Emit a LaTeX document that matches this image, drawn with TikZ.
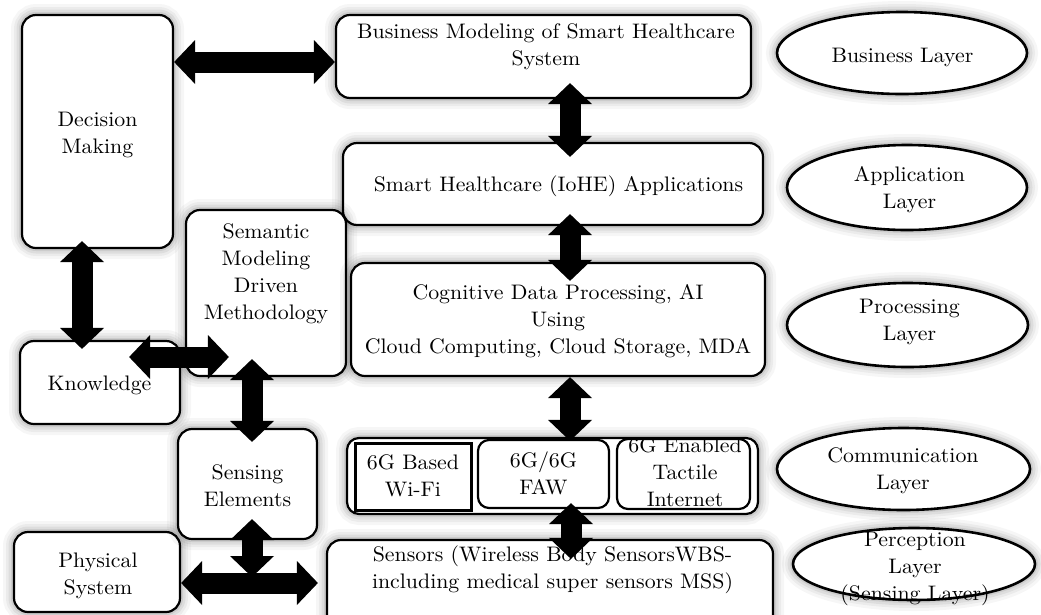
\documentclass[tikz,border=0pt]{standalone}
\usepackage{fontspec}
\setmainfont{lmroman10-regular.otf}[FakeStretch=1.04]
\usetikzlibrary{shapes.geometric,arrows.meta,calc}
\begin{document}
\begin{tikzpicture}[x=1pt,y=-1pt,
  glow/.style={preaction={draw=black,opacity=0.035,line width=22pt},
               preaction={draw=black,opacity=0.045,line width=16pt},
               preaction={draw=black,opacity=0.06,line width=11pt},
               preaction={draw=black,opacity=0.08,line width=6pt}},
  box/.style={draw,line width=2.2pt,rounded corners=14pt,fill=white,glow,inner sep=0pt},
  ibox/.style={draw,line width=2.2pt,rounded corners=11pt,fill=white,inner sep=0pt},
  ell/.style={draw,ellipse,line width=2.6pt,fill=white,glow,inner sep=0pt},
  txt/.style={align=center,inner sep=0pt,font=\fontsize{21}{27}\selectfont},
  dbl/.style={line width=21pt,
    {Triangle[width=44pt,length=21pt,line width=0pt]}-{Triangle[width=44pt,length=21pt,line width=0pt]}}
]
\useasboundingbox (0,0) rectangle (1041,614);
\clip (0,0) rectangle (1041,614);

% boxes
\node[box,minimum width=151pt,minimum height=233pt] (dm) at (97.5,131.5) {};
\node[box,minimum width=415pt,minimum height=83pt] (bm) at (543.5,56.5) {};
\node[box,minimum width=420pt,minimum height=82pt] (sh) at (553,184) {};
\node[box,minimum width=160pt,minimum height=166pt] (sm) at (266,293) {};
\node[box,minimum width=414pt,minimum height=113pt] (cg) at (558,319.5) {};
\node[box,minimum width=160pt,minimum height=83pt] (kn) at (100,382.5) {};
\node[box,minimum width=166pt,minimum height=80pt] (ps) at (97,572) {};
\node[box,minimum width=139pt,minimum height=110pt] (se) at (247.5,484) {};
\node[box,rounded corners=12pt,minimum width=411pt,minimum height=76pt] (cm) at (552.5,476) {};
\node[draw,line width=3pt,fill=white,inner sep=0pt,minimum width=116pt,minimum height=67pt] (wf) at (413,476.5) {};
\node[ibox,minimum width=131pt,minimum height=68pt] (fw) at (543.5,474) {};
\node[ibox,minimum width=133pt,minimum height=70pt] (tc) at (683.5,474) {};
\node[box,minimum width=446pt,minimum height=100pt] (sn) at (550,590) {};

% layer ellipses
\node[ell,minimum width=250pt,minimum height=82pt] (bl) at (902,53) {};
\node[ell,minimum width=240pt,minimum height=85pt] (al) at (907,187.5) {};
\node[ell,minimum width=241pt,minimum height=84pt] (pl) at (907.5,325) {};
\node[ell,minimum width=253pt,minimum height=82pt] (cl) at (903.5,469) {};
\node[ell,minimum width=242pt,minimum height=72pt] (pc) at (914,564) {};

% texts
\node[txt] (tdm) at (97.5,135) {Decision\\Making};
\node[txt] (tbm) at (546,47) {Business Modeling of Smart Healthcare\\System};
\node[txt] (tsh) at (558.5,186) {Smart Healthcare (IoHE) Applications};
\node[txt] (tsm) at (266,274) {Semantic\\Modeling\\Driven\\Methodology};
\node[txt] (tcg) at (558,321.5) {Cognitive Data Processing, AI\\Using\\Cloud Computing, Cloud Storage, MDA};
\node[txt] (tkn) at (99.5,385) {Knowledge};
\node[txt] (tse) at (247.5,485.5) {Sensing\\Elements};
\node[txt] (tps) at (98,575.5) {Physical\\System};
\node[txt] (twf) at (413,476) {6G Based\\Wi-Fi};
\node[txt] (tfw) at (543.5,473) {6G/6G\\FAW};
\node[txt] (ttc) at (685,472) {6G Enabled\\Tactile\\Internet};
\node[txt] (tsn) at (552.5,570) {Sensors (Wireless Body SensorsWBS-\\including medical super sensors MSS)};
\node[txt] (tbl) at (902.5,57) {Business Layer};
\node[txt] (tal) at (909.5,189.5) {Application\\Layer};
\node[txt] (tpl) at (909.5,321.5) {Processing\\Layer};
\node[txt] (tcl) at (903,471) {Communication\\Layer};
\node[txt] (tpc) at (915,569) {Perception\\Layer\\(Sensing Layer)};

% connector helper coordinates
\coordinate (a1) at (0,62);
\coordinate (ax) at (570,0);
\coordinate (bx) at (82,0);
\coordinate (c7) at (0,357);
\coordinate (dx) at (252,0);
\coordinate (h) at (0,583);
\coordinate (jn) at (252,577);

% connectors
\draw[dbl] (dm.east |- a1) -- (bm.west |- a1);
\draw[dbl] ($(bm.south -| ax)+(0,-16)$) -- ($(sh.north -| ax)+(0,15)$);
\draw[dbl] ($(sh.south -| ax)+(0,-12)$) -- ($(cg.north -| ax)+(0,19)$);
\draw[dbl] (cg.south -| ax) -- ($(fw.north -| ax)+(0,2)$);
\draw[dbl] ($(fw.south -| ax)+(1,-6)$) -- ($(sn.north -| ax)+(1,20)$);
\draw[dbl] ($(dm.south -| bx)+(0,-8)$) -- ($(kn.north -| bx)+(0,9)$);
\draw[dbl] ($(kn.east |- c7)+(-52,0)$) -- ($(sm.west |- c7)+(44,0)$);
\draw[dbl] ($(sm.south -| dx)+(0,-18)$) -- ($(se.north -| dx)+(0,14)$);
\draw[dbl] (ps.east |- h) -- ($(sn.west |- h)+(-8,0)$);
\draw[dbl] ($(se.south -| dx)+(0,-21)$) -- (jn);
\end{tikzpicture}
\end{document}
